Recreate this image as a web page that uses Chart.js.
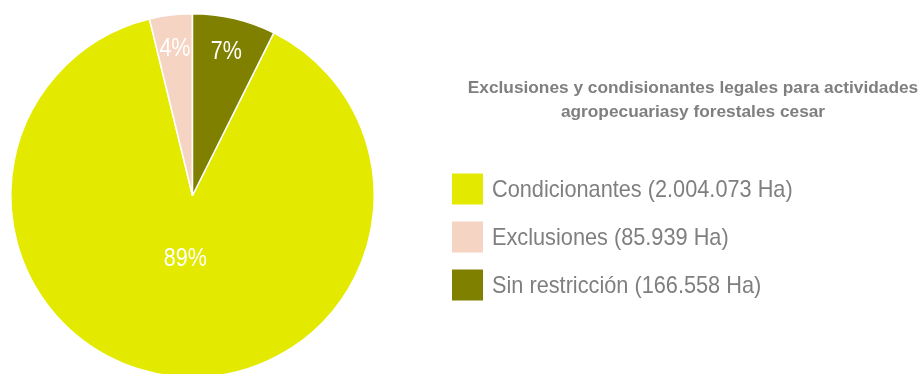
<!DOCTYPE html>
<html>
<head>
<meta charset="utf-8">
<script src="https://cdn.jsdelivr.net/npm/chart.js@4.4.1/dist/chart.umd.min.js"></script>
<style>
  html, body { margin: 0; padding: 0; background: #fff; overflow: hidden; }
  #wrap { position: absolute; left: 0; top: 0; width: 924px; height: 400px; }
</style>
</head>
<body>
<div id="wrap"><canvas id="pieChart" width="924" height="400"></canvas></div>
<script>
const categories = ["Condicionantes", "Exclusiones", "Sin restricción"];
const hectares = [2004073, 85939, 166558];
const sliceColors = ["#e3ea00", "#f6d4c4", "#808000"];
const titleLines = [
  "Exclusiones y condisionantes legales para actividades",
  "agropecuariasy forestales cesar"
];

const total = hectares.reduce((acc, v) => acc + v, 0);
const fontFamily = "'Liberation Sans Narrow', 'Liberation Sans', Arial, sans-serif";

// 2.004.073 style thousands separator
function formatHa(v) {
  return Intl.NumberFormat("de-DE").format(v) + " Ha";
}

// the last slice sits right after 12 o'clock, so turn the pie by its share
const startRotation = (hectares[2] / total) * 360;

const percentLabels = {
  id: "percentLabels",
  afterDatasetsDraw(chart) {
    const ctx = chart.ctx;
    const meta = chart.getDatasetMeta(0);
    ctx.save();
    ctx.fillStyle = "#ffffff";
    ctx.font = "25px " + fontFamily;
    ctx.textAlign = "center";
    ctx.textBaseline = "middle";
    meta.data.forEach((arc, i) => {
      const p = arc.getProps(["x", "y", "startAngle", "endAngle", "outerRadius"], true);
      const mid = (p.startAngle + p.endAngle) / 2;
      const share = hectares[i] / total;
      const dist = share > 0.5 ? p.outerRadius * 0.35 : p.outerRadius * 0.81;
      const x = p.x + Math.cos(mid) * dist;
      const y = p.y + Math.sin(mid) * dist;
      ctx.save();
      ctx.translate(x, y);
      ctx.scale(0.86, 1);
      ctx.fillText(Math.round(share * 100) + "%", 0, 0);
      ctx.restore();
    });
    ctx.restore();
  }
};

const sideLegend = {
  id: "sideLegend",
  afterDraw(chart) {
    const ctx = chart.ctx;
    ctx.save();
    ctx.fillStyle = "#7f7f7f";
    ctx.textBaseline = "middle";

    ctx.font = "bold 17.3px " + fontFamily;
    ctx.textAlign = "center";
    titleLines.forEach((line, i) => {
      ctx.fillText(line, 693, 88 + i * 24);
    });

    ctx.font = "24px " + fontFamily;
    ctx.textAlign = "left";
    categories.forEach((name, i) => {
      const cy = 189 + i * 48;
      ctx.fillStyle = sliceColors[i];
      ctx.fillRect(452, cy - 15.5, 31, 31);
      ctx.fillStyle = "#7f7f7f";
      ctx.save();
      ctx.translate(492, cy + 1);
      ctx.scale(0.905, 1);
      ctx.fillText(name + " (" + formatHa(hectares[i]) + ")", 0, 0);
      ctx.restore();
    });
    ctx.restore();
  }
};

new Chart(document.getElementById("pieChart"), {
  type: "pie",
  data: {
    labels: categories,
    datasets: [{
      data: hectares,
      backgroundColor: sliceColors,
      borderColor: "#ffffff",
      borderWidth: 1.5
    }]
  },
  options: {
    responsive: false,
    animation: false,
    rotation: startRotation,
    layout: { padding: { left: 10, top: 13, right: 549, bottom: 22 } },
    plugins: {
      legend: { display: false },
      tooltip: { enabled: false }
    }
  },
  plugins: [percentLabels, sideLegend]
});
</script>
</body>
</html>
